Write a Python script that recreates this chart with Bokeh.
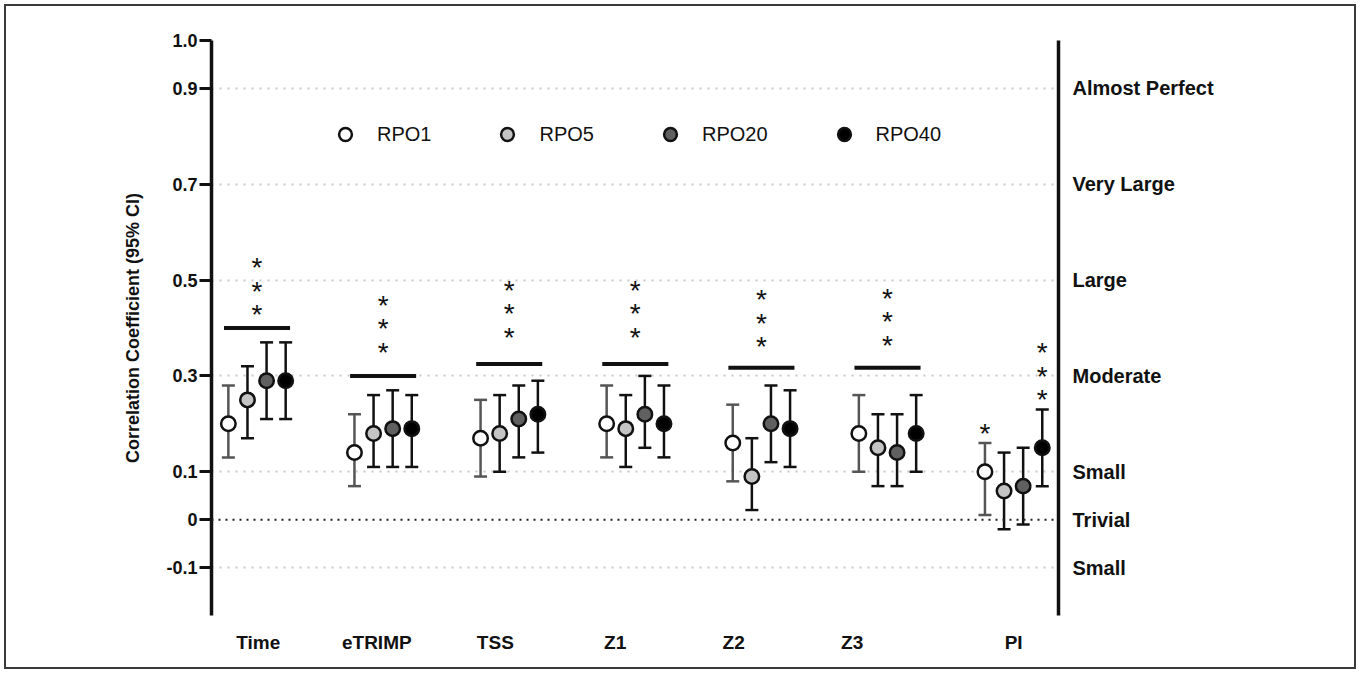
from bokeh.plotting import figure
from bokeh.models import (Range1d, LinearAxis, FixedTicker, Legend, LegendItem,
                          Span, ColumnDataSource)
from bokeh.core.properties import value
from bokeh.embed import file_html
from bokeh.resources import INLINE

# ---------------- data ----------------
categories = ["Time", "eTRIMP", "TSS", "Z1", "Z2", "Z3", "PI"]
series = ["RPO1", "RPO5", "RPO20", "RPO40"]

rpo1 = [0.20, 0.14, 0.17, 0.20, 0.16, 0.18, 0.10]
rpo1_lo = [0.13, 0.07, 0.09, 0.13, 0.08, 0.10, 0.01]
rpo1_hi = [0.28, 0.22, 0.25, 0.28, 0.24, 0.26, 0.16]

rpo5 = [0.25, 0.18, 0.18, 0.19, 0.09, 0.15, 0.06]
rpo5_lo = [0.17, 0.11, 0.10, 0.11, 0.02, 0.07, -0.02]
rpo5_hi = [0.32, 0.26, 0.26, 0.26, 0.17, 0.22, 0.14]

rpo20 = [0.29, 0.19, 0.21, 0.22, 0.20, 0.14, 0.07]
rpo20_lo = [0.21, 0.11, 0.13, 0.15, 0.12, 0.07, -0.01]
rpo20_hi = [0.37, 0.27, 0.28, 0.30, 0.28, 0.22, 0.15]

rpo40 = [0.29, 0.19, 0.22, 0.20, 0.19, 0.18, 0.15]
rpo40_lo = [0.21, 0.11, 0.14, 0.13, 0.11, 0.10, 0.07]
rpo40_hi = [0.37, 0.26, 0.29, 0.28, 0.27, 0.26, 0.23]

# significance bars over groups (Time .. Z3)
sig_groups = [0, 1, 2, 3, 4, 5]
sig_bar_y = [0.40, 0.30, 0.325, 0.325, 0.317, 0.317]

# asterisk columns: group, series (None = group centre), count, lowest y
star_group = [0, 1, 2, 3, 4, 5, 6, 6]
star_series = [None, None, None, None, None, None, 0, 3]
star_count = [3, 3, 3, 3, 3, 3, 1, 3]
star_low_y = [0.438, 0.360, 0.391, 0.391, 0.371, 0.374, 0.191, 0.261]
star_step = 0.049

y_ticks = [-0.1, 0, 0.1, 0.3, 0.5, 0.7, 0.9, 1.0]
y_tick_labels = ["-0.1", "0", "0.1", "0.3", "0.5", "0.7", "0.9", "1.0"]
grid_ticks = [-0.1, 0.1, 0.3, 0.5, 0.7, 0.9]

mag_ticks = [0.9, 0.7, 0.5, 0.3, 0.1, 0, -0.1]
mag_labels = ["Almost Perfect", "Very Large", "Large", "Moderate", "Small",
              "Trivial", "Small"]

# category label positions on the group axis
label_x = [0.01, 0.95, 1.89, 2.84, 3.78, 4.72, 6.0]

# ---------------- styling ----------------
FONT = "Liberation Sans"
fills = ["#ffffff", "#c4c4c4", "#606060", "#000000"]
bar_colors = ["#555555", "#111111", "#111111", "#111111"]
offset_step = 0.1515
offsets = [(-1.5 + k) * offset_step for k in range(4)]

p = figure(width=1360, height=673,
           x_range=Range1d(-0.361, 6.356), y_range=Range1d(-0.2, 1.0),
           output_backend="svg", toolbar_location=None,
           min_border_left=211, min_border_right=302,
           min_border_top=40, min_border_bottom=58,
           x_axis_location=None, y_axis_location="left")
p.outline_line_color = None
p.border_fill_alpha = 0
p.background_fill_alpha = 0
p.styles = {"outline": "2px solid #3a3a3a", "outline-offset": "-6px"}

# grid
p.xgrid.visible = False
p.ygrid.ticker = FixedTicker(ticks=grid_ticks)
p.ygrid.grid_line_color = "#c8c8c8"
p.ygrid.grid_line_dash = "2 6"
p.ygrid.grid_line_width = 2

zero = Span(location=0, dimension="width", line_color="#222222",
            line_dash="2 5", line_width=2)
p.add_layout(zero)

# left axis
yax = p.yaxis[0]
yax.ticker = FixedTicker(ticks=y_ticks)
yax.major_label_overrides = {t: l for t, l in zip(y_ticks, y_tick_labels)}
yax.axis_line_width = 3.5
yax.axis_line_color = "#111111"
yax.major_tick_line_width = 3
yax.major_tick_line_color = "#111111"
yax.major_tick_out = 12
yax.major_tick_in = 0
yax.minor_tick_line_color = None
yax.major_label_text_font = FONT
yax.major_label_text_font_style = "bold"
yax.major_label_text_font_size = "18px"
yax.major_label_text_color = "#111111"
yax.major_label_standoff = 2
yax.axis_label = "Correlation Coefficient (95% CI)"
yax.axis_label_text_font = FONT
yax.axis_label_text_font_style = "bold"
yax.axis_label_text_font_size = "18px"
yax.axis_label_text_color = "#111111"
yax.axis_label_standoff = 20

# right axis with magnitude labels
rax = LinearAxis(ticker=FixedTicker(ticks=mag_ticks),
                 major_label_overrides={t: l for t, l in zip(mag_ticks, mag_labels)})
rax.axis_line_width = 3.5
rax.axis_line_color = "#111111"
rax.major_tick_out = 0
rax.major_tick_in = 0
rax.major_tick_line_color = None
rax.minor_tick_line_color = None
rax.major_label_standoff = 14
rax.major_label_text_font = FONT
rax.major_label_text_font_style = "bold"
rax.major_label_text_font_size = "20px"
rax.major_label_text_color = "#111111"
p.add_layout(rax, "right")

# bottom category axis
bax = LinearAxis(ticker=FixedTicker(ticks=label_x),
                 major_label_overrides={t: l for t, l in zip(label_x, categories)})
bax.axis_line_color = None
bax.major_tick_line_color = None
bax.minor_tick_line_color = None
bax.major_tick_out = 0
bax.major_tick_in = 0
bax.major_label_standoff = 16
bax.major_label_text_font = FONT
bax.major_label_text_font_style = "bold"
bax.major_label_text_font_size = "19px"
bax.major_label_text_color = "#111111"
p.add_layout(bax, "below")

# significance bars
sig_src = ColumnDataSource(dict(
    x0=[g - 0.262 for g in sig_groups],
    x1=[g + 0.262 for g in sig_groups],
    y=sig_bar_y))
p.segment(x0="x0", y0="y", x1="x1", y1="y", source=sig_src,
          line_color="#111111", line_width=4)

# asterisks
sx, sy = [], []
for g, s, n, y0 in zip(star_group, star_series, star_count, star_low_y):
    xpos = g if s is None else g + offsets[s]
    for k in range(n):
        sx.append(xpos)
        sy.append(y0 + k * star_step)
star_src = ColumnDataSource(dict(x=sx, y=sy, t=["*"] * len(sx)))
p.text(x="x", y="y", text="t", source=star_src, text_font=value(FONT),
       text_font_size="28px", text_align="center", text_baseline="alphabetic",
       y_offset=5, text_color="#111111")

# error bars and points
vals = [rpo1, rpo5, rpo20, rpo40]
los = [rpo1_lo, rpo5_lo, rpo20_lo, rpo40_lo]
his = [rpo1_hi, rpo5_hi, rpo20_hi, rpo40_hi]
point_renderers = []
for k in range(4):
    xs = [i + offsets[k] for i in range(len(categories))]
    src = ColumnDataSource(dict(x=xs, y=vals[k], lo=los[k], hi=his[k]))
    p.segment(x0="x", y0="lo", x1="x", y1="hi", source=src,
              line_color=bar_colors[k], line_width=2.5)
    p.scatter(x="x", y="lo", source=src, marker="dash", size=13,
              line_color=bar_colors[k], line_width=2.5)
    p.scatter(x="x", y="hi", source=src, marker="dash", size=13,
              line_color=bar_colors[k], line_width=2.5)
    r = p.scatter(x="x", y="y", source=src, marker="circle", size=14.5,
                  fill_color=fills[k], line_color="#111111", line_width=2.5)
    point_renderers.append(r)

legend = Legend(items=[LegendItem(label=series[k], renderers=[point_renderers[k]])
                       for k in range(4)],
                orientation="horizontal", location=(118, 465),
                glyph_width=32, glyph_height=32, label_standoff=16, spacing=60,
                padding=0, margin=0, border_line_color=None,
                background_fill_alpha=0,
                label_text_font=FONT, label_text_font_size="20px",
                label_text_color="#111111")
p.add_layout(legend)

open("out.html", "w").write(file_html(p, INLINE))
